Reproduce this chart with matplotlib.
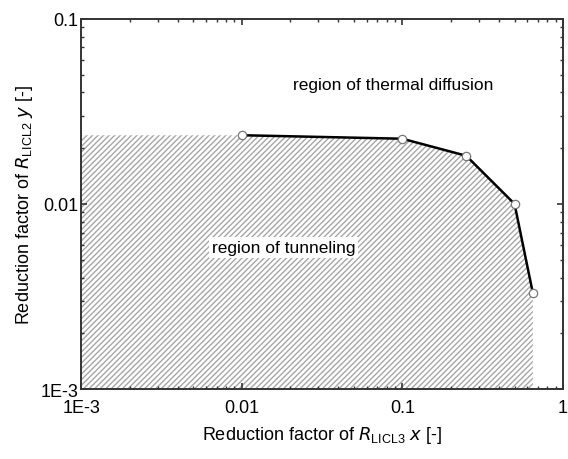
import matplotlib.pyplot as plt
from matplotlib.ticker import LogLocator, FixedLocator, NullFormatter

plt.rcParams["font.family"] = ["Liberation Sans", "DejaVu Sans"]
plt.rcParams["hatch.linewidth"] = 1.0

# Boundary between tunneling and thermal diffusion
x_vals = [0.01, 0.1, 0.25, 0.5, 0.65]
y_vals = [0.0235, 0.0225, 0.0182, 0.0100, 0.0033]

x_ticks = [1e-3, 0.01, 0.1, 1]
x_labels = ["1E-3", "0.01", "0.1", "1"]
y_ticks = [1e-3, 0.01, 0.1]
y_labels = ["1E-3", "0.01", "0.1"]

xmin, xmax = 1e-3, 1
ymin, ymax = 1e-3, 0.1

fig = plt.figure(figsize=(5.68, 4.6), dpi=100)
ax = fig.add_axes([0.143, 0.152, 0.848, 0.805])
ax.set_xscale("log")
ax.set_yscale("log")

# Hatched tunneling region below the boundary
poly_x = [xmin] + x_vals + [x_vals[-1], xmin]
poly_y = [y_vals[0]] + y_vals + [ymin, ymin]
ax.fill(poly_x, poly_y, facecolor="white", edgecolor="#a6a6a6", linewidth=0,
        hatch="//////", zorder=1)

ax.plot(x_vals, y_vals, color="black", lw=1.8, zorder=3)
ax.plot(x_vals, y_vals, "o", ms=6, mfc="white", mec="#777777", mew=0.9, zorder=4)

ax.text(0.088, 0.044, "region of thermal diffusion", ha="center", va="center", fontsize=12.5)
ax.text(0.0183, 0.0058, "region of tunneling", ha="center", va="center", fontsize=12.5,
        bbox=dict(facecolor="white", edgecolor="none", pad=2), zorder=5)

ax.set_xlim(xmin, xmax)
ax.set_ylim(ymin, ymax)
ax.xaxis.set_major_locator(FixedLocator(x_ticks))
ax.set_xticklabels(x_labels)
ax.yaxis.set_major_locator(FixedLocator(y_ticks))
ax.set_yticklabels(y_labels)
ax.xaxis.set_minor_locator(LogLocator(base=10, subs=range(2, 10)))
ax.yaxis.set_minor_locator(LogLocator(base=10, subs=range(2, 10)))
ax.xaxis.set_minor_formatter(NullFormatter())
ax.yaxis.set_minor_formatter(NullFormatter())
ax.tick_params(which="both", direction="in", top=True, right=True, colors="#333333",
               labelcolor="black", labelsize=13)
ax.tick_params(which="major", length=4, width=1.2)
ax.tick_params(which="minor", length=2.5, width=1.0)
ax.tick_params(axis="y", pad=2)
ax.tick_params(axis="x", pad=7)
for s in ax.spines.values():
    s.set_linewidth(1.4)
    s.set_color("#333333")

ax.set_xlabel(r"Reduction factor of $R_{\mathregular{LICL3}}$ $x$ [-]", fontsize=13, labelpad=6)
ax.set_ylabel(r"Reduction factor of $R_{\mathregular{LICL2}}$ $y$ [-]", fontsize=13, labelpad=4)

fig.savefig("out.png", dpi=100)
